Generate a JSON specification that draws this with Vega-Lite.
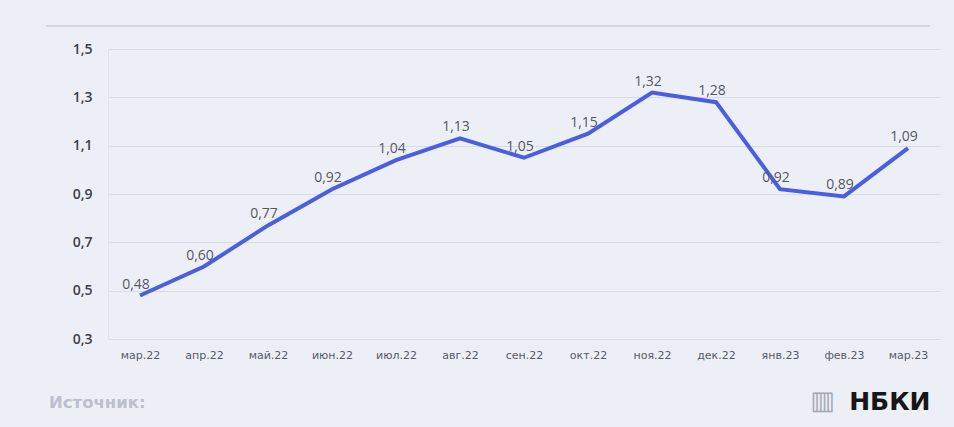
{
  "$schema": "https://vega.github.io/schema/vega-lite/v6.json",
  "autosize": {"type": "none"},
  "width": 832,
  "height": 290,
  "padding": {"left": 108, "top": 49, "right": 14, "bottom": 88},
  "background": "#edeff6",
  "config": {
    "view": {"stroke": null},
    "font": "Open Sans",
    "locale": {"number": {"decimal": ",", "thousands": " ", "grouping": [3], "currency": ["", " ₽"]}}
  },
  "title": {
    "text": "Источник:",
    "orient": "bottom",
    "anchor": "start",
    "frame": "group",
    "dx": -59,
    "dy": -23,
    "fontSize": 16.5,
    "fontWeight": "bold",
    "color": "#bcc0ce",
    "font": "DejaVu Sans"
  },
  "data": {
    "values": [
      {"month": "мар.22", "value": 0.48},
      {"month": "апр.22", "value": 0.60},
      {"month": "май.22", "value": 0.77},
      {"month": "июн.22", "value": 0.92},
      {"month": "июл.22", "value": 1.04},
      {"month": "авг.22", "value": 1.13},
      {"month": "сен.22", "value": 1.05},
      {"month": "окт.22", "value": 1.15},
      {"month": "ноя.22", "value": 1.32},
      {"month": "дек.22", "value": 1.28},
      {"month": "янв.23", "value": 0.92},
      {"month": "фев.23", "value": 0.89},
      {"month": "мар.23", "value": 1.09}
    ]
  },
  "encoding": {
    "x": {
      "field": "month",
      "type": "ordinal",
      "sort": null,
      "scale": {"type": "point", "padding": 0.5},
      "axis": {
        "title": "НБКИ",
        "titleFont": "DejaVu Sans",
        "titleFontSize": 25,
        "titleFontWeight": "bold",
        "titleColor": "#161616",
        "titleAlign": "right",
        "titleBaseline": "middle",
        "titleX": 822,
        "titleY": 62,
        "labelAngle": 0,
        "labelFontSize": 11,
        "labelColor": "#555a66",
        "labelFont": "DejaVu Sans",
        "labelFontWeight": "normal",
        "labelPadding": 10,
        "ticks": false,
        "domain": false,
        "grid": false
      }
    },
    "y": {
      "field": "value",
      "type": "quantitative",
      "scale": {"domain": [0.3, 1.5], "nice": false, "zero": false},
      "axis": {
        "values": [0.3, 0.5, 0.7, 0.9, 1.1, 1.3, 1.5],
        "format": ".1f",
        "title": "▥",
        "titleAngle": 0,
        "titleFontSize": 26,
        "titleFontWeight": "normal",
        "titleFont": "DejaVu Sans",
        "titleColor": "#a3a6b0",
        "titleAlign": "center",
        "titleBaseline": "middle",
        "titleX": 714,
        "titleY": 351,
        "labelFontSize": 14,
        "labelFont": "Open Sans",
        "labelFontWeight": 600,
        "labelColor": "#3c3f48",
        "labelPadding": 16,
        "ticks": false,
        "domain": true,
        "domainColor": "#dfe2ec",
        "gridColor": "#d9dce7",
        "gridWidth": 1.2
      }
    }
  },
  "layer": [
    {
      "mark": {"type": "rule", "color": "#d5d8e2", "strokeWidth": 2, "clip": false},
      "encoding": {"y": {"datum": 1.595}, "x": {"value": -62}, "x2": {"value": 822}}
    },
    {
      "mark": {"type": "line", "color": "#4a5fe0", "strokeWidth": 4}
    },
    {
      "mark": {"type": "text", "fontSize": 14, "color": "#55585f", "font": "Open Sans", "dy": -11, "dx": -4},
      "encoding": {"text": {"field": "value", "type": "quantitative", "format": ".2f"}}
    }
  ]
}
